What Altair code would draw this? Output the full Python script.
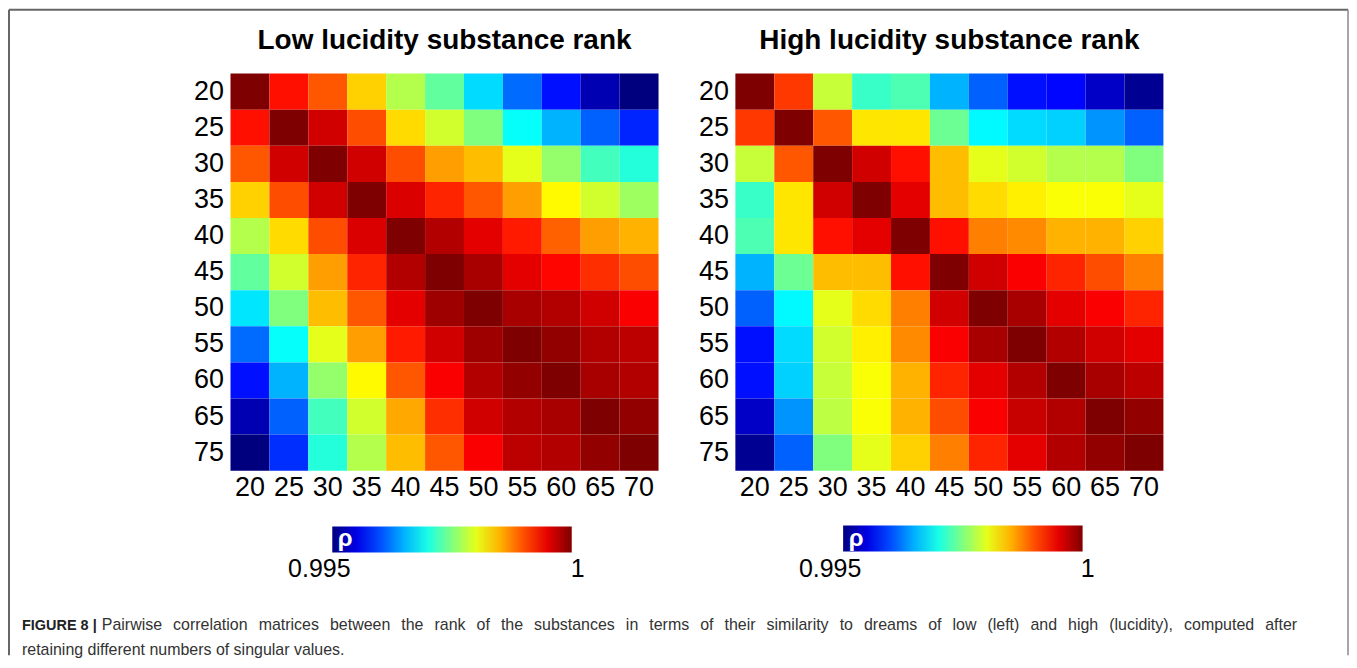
import altair as alt
import pandas as pd

row_labels = ["20", "25", "30", "35", "40", "45", "50", "55", "60", "65", "75"]
col_labels = ["20", "25", "30", "35", "40", "45", "50", "55", "60", "65", "70"]

low_rho = [
    [1.0, 0.9993, 0.99895, 0.99835, 0.99775, 0.99735, 0.9967, 0.99615, 0.9957, 0.99525, 0.995],
    [0.9993, 1.0, 0.9996, 0.999, 0.9983, 0.9979, 0.9975, 0.9969, 0.9965, 0.9961, 0.9958],
    [0.99895, 0.9996, 1.0, 0.9996, 0.999, 0.9986, 0.99845, 0.998, 0.9976, 0.9972, 0.99705],
    [0.99835, 0.999, 0.9996, 1.0, 0.99955, 0.9992, 0.99895, 0.9986, 0.99815, 0.9979, 0.99765],
    [0.99775, 0.9983, 0.999, 0.99955, 1.0, 0.99975, 0.9995, 0.99925, 0.9989, 0.9986, 0.9985],
    [0.99735, 0.9979, 0.9986, 0.9992, 0.99975, 1.0, 0.9998, 0.9995, 0.99935, 0.99915, 0.999],
    [0.99675, 0.9975, 0.99845, 0.99895, 0.9995, 0.99985, 1.0, 0.9998, 0.99975, 0.9996, 0.9994],
    [0.99615, 0.9969, 0.998, 0.9986, 0.99925, 0.9996, 0.99985, 1.0, 0.9999, 0.99975, 0.9997],
    [0.9957, 0.9965, 0.9976, 0.99815, 0.99895, 0.9994, 0.99975, 0.9999, 1.0, 0.9998, 0.99975],
    [0.99525, 0.9961, 0.9972, 0.9979, 0.99855, 0.99915, 0.9996, 0.99975, 0.9998, 1.0, 0.9999],
    [0.995, 0.99585, 0.99705, 0.99775, 0.99845, 0.99895, 0.9994, 0.9997, 0.99975, 0.9999, 1.0],
]

high_rho = [
    [1.0, 0.9991, 0.99785, 0.99715, 0.99725, 0.9965, 0.9961, 0.9957, 0.99565, 0.99535, 0.9951],
    [0.9991, 1.0, 0.99895, 0.99825, 0.99825, 0.9974, 0.99685, 0.9967, 0.99665, 0.99635, 0.9961],
    [0.99785, 0.99895, 1.0, 0.9996, 0.9993, 0.99845, 0.998, 0.9979, 0.99775, 0.99775, 0.9975],
    [0.99715, 0.99825, 0.9996, 1.0, 0.9995, 0.99845, 0.9983, 0.9982, 0.9981, 0.9981, 0.998],
    [0.99725, 0.99825, 0.9993, 0.9995, 1.0, 0.9993, 0.99875, 0.9987, 0.9985, 0.9985, 0.99835],
    [0.9965, 0.9974, 0.99845, 0.99845, 0.9993, 1.0, 0.9996, 0.9994, 0.9992, 0.999, 0.99875],
    [0.9961, 0.99685, 0.998, 0.9983, 0.99875, 0.9996, 1.0, 0.9998, 0.9995, 0.9994, 0.9992],
    [0.9957, 0.9967, 0.9979, 0.9982, 0.9987, 0.9994, 0.9998, 1.0, 0.99975, 0.9996, 0.9995],
    [0.9957, 0.99665, 0.99785, 0.9981, 0.9985, 0.9992, 0.9995, 0.99975, 1.0, 0.9998, 0.9997],
    [0.99535, 0.99635, 0.9978, 0.9981, 0.9985, 0.999, 0.9994, 0.99965, 0.99975, 1.0, 0.9999],
    [0.9951, 0.9961, 0.9975, 0.998, 0.99835, 0.99875, 0.9992, 0.9995, 0.99975, 0.9999, 1.0],
]

titles = ["Low lucidity substance rank", "High lucidity substance rank"]
legend_ticks = [0.995, 1.0]
legend_tick_labels = ["0.995", "1"]
jet_domain = [0.995, 0.995625, 0.996875, 0.998125, 0.999375, 1.0]
jet_range = ["#00007f", "#0000ff", "#00ffff", "#ffff00", "#ff0000", "#7f0000"]

caption_bold = "FIGURE 8 |"
caption_line1 = ("Pairwise correlation matrices between the rank of the substances in terms of "
                 "their similarity to dreams of low (left) and high (lucidity), computed after")
caption_line2 = "retaining different numbers of singular values."

FONT = "Liberation Sans"
W, H = 429, 398
SPACING = 77
X3 = 2 * W + 2 * SPACING  # origin of overlay panel relative to left plot

# Arial / Liberation Sans advance widths (per 1000 em) used to justify caption line 1
ARIAL_W = {" ": 278, "a": 556, "b": 556, "c": 500, "d": 556, "e": 556, "f": 278, "g": 556,
           "h": 556, "i": 222, "j": 222, "k": 500, "l": 222, "m": 833, "n": 556, "o": 556,
           "p": 556, "q": 556, "r": 333, "s": 500, "t": 278, "u": 556, "v": 500, "w": 722,
           "x": 500, "y": 500, "z": 500, "(": 333, ")": 333, ",": 278, ".": 278, "P": 667}


def text_w(s, size):
    return sum(ARIAL_W.get(ch, 556) for ch in s) / 1000.0 * size


def justified(text, x_start, x_end, size):
    words = text.split()
    natural = sum(text_w(w, size) for w in words)
    gap = (x_end - x_start - natural) / (len(words) - 1)
    xs, x = [], x_start
    for w in words:
        xs.append(x)
        x += text_w(w, size) + gap
    return pd.DataFrame({"w": words, "px": xs})


def long_df(mat):
    recs = []
    for i, r in enumerate(row_labels):
        for j, c in enumerate(col_labels):
            recs.append({"row": r, "col": c, "rho": mat[i][j]})
    return pd.DataFrame(recs)


one = alt.Data(values=[{"a": 1}])
ticks_df = pd.DataFrame({"v": legend_ticks, "lab": legend_tick_labels})


def panel(mat, title, legx, legy, extras):
    heat = alt.Chart(long_df(mat)).mark_rect().encode(
        x=alt.X("col:O", sort=col_labels, title=None,
                scale=alt.Scale(paddingInner=0, paddingOuter=0),
                axis=alt.Axis(labelAngle=0, ticks=False, domain=False,
                              labelFontSize=27, labelFont=FONT, labelColor="black",
                              labelPadding=4)),
        y=alt.Y("row:O", sort=row_labels, title=None,
                scale=alt.Scale(paddingInner=0, paddingOuter=0),
                axis=alt.Axis(ticks=False, domain=False,
                              labelFontSize=27, labelFont=FONT, labelColor="black",
                              labelPadding=7)),
        color=alt.Color("rho:Q",
                        scale=alt.Scale(domain=jet_domain, range=jet_range, interpolate="rgb"),
                        legend=alt.Legend(orient="none", legendX=legx, legendY=legy,
                                          direction="horizontal", gradientLength=240,
                                          gradientThickness=26, values=legend_ticks,
                                          labelExpr="''", title=None,
                                          gradientStrokeWidth=0)),
    )
    ttl = alt.Chart(one).mark_text(text=title, font=FONT, fontSize=28, fontWeight="bold",
                                   color="black", align="center", baseline="alphabetic").encode(
        x=alt.value(W / 2), y=alt.value(-25))
    layers = [heat, ttl] + extras
    return alt.layer(*layers).properties(width=W, height=H)


Y1, Y2 = 558, 583
cap_bold = alt.Chart(one).mark_text(text=caption_bold, font=FONT, fontSize=14.5,
                                    fontWeight="bold", color="#222222", align="left",
                                    baseline="alphabetic").encode(
    x=alt.value(-209), y=alt.value(Y1))
cap_l2 = alt.Chart(one).mark_text(text=caption_line2, font=FONT, fontSize=16,
                                  color="#333333", align="left", baseline="alphabetic").encode(
    x=alt.value(-209), y=alt.value(Y2))
b_left = alt.Chart(one).mark_rule(color="#666666", strokeWidth=2).encode(
    x=alt.value(-222), y=alt.value(-64), y2=alt.value(583))
b_top = alt.Chart(one).mark_rule(color="#666666", strokeWidth=2).encode(
    x=alt.value(-222), x2=alt.value(1120), y=alt.value(-64))
b_right = alt.Chart(one).mark_rule(color="#888888", strokeWidth=1.5).encode(
    x=alt.value(1120), y=alt.value(-64), y2=alt.value(583))

left = panel(low_rho, titles[0], 102, 454, [cap_bold, cap_l2, b_left, b_top, b_right])
right = panel(high_rho, titles[1], 108, 453, [])

# overlay panel (drawn last): colorbar symbol, colorbar tick labels, justified caption line
words_df = justified(caption_line1, -129 - X3, 1069 - X3, 16)
cap_words = alt.Chart(words_df).mark_text(font=FONT, fontSize=16, color="#333333",
                                          align="left", baseline="alphabetic").encode(
    x=alt.X("px:Q", scale=None, axis=None), y=alt.value(Y1), text="w:N")
lab_left = alt.Chart(ticks_df).mark_text(font=FONT, fontSize=25, color="black",
                                         align="center", baseline="alphabetic").encode(
    x=alt.X("v:Q", axis=None,
            scale=alt.Scale(domain=[0.995, 1.0], range=[89 - X3, 348 - X3])),
    y=alt.value(505), text="lab:N")
lab_right = alt.Chart(ticks_df).mark_text(font=FONT, fontSize=25, color="black",
                                          align="center", baseline="alphabetic").encode(
    x=alt.X("v:Q", axis=None,
            scale=alt.Scale(domain=[0.995, 1.0],
                            range=[W + SPACING + 95 - X3, W + SPACING + 353 - X3])),
    y=alt.value(505), text="lab:N")
rho_l = alt.Chart(one).mark_text(text="ρ", font=FONT, fontSize=24, fontWeight="bold",
                                 color="white", align="center", baseline="middle").encode(
    x=alt.value(115 - X3), y=alt.value(466))
rho_r = alt.Chart(one).mark_text(text="ρ", font=FONT, fontSize=24, fontWeight="bold",
                                 color="white", align="center", baseline="middle").encode(
    x=alt.value(W + SPACING + 121 - X3), y=alt.value(466))
overlay = alt.layer(lab_left, lab_right, rho_l, rho_r, cap_words).resolve_scale(
    x="independent").properties(width=1, height=1)

chart = alt.hconcat(left, right, overlay, spacing=SPACING, bounds="flush").resolve_scale(
    color="independent").properties(padding=0).configure_view(stroke=None)

chart.save("out.html", embed_options={"renderer": "svg", "actions": False})
